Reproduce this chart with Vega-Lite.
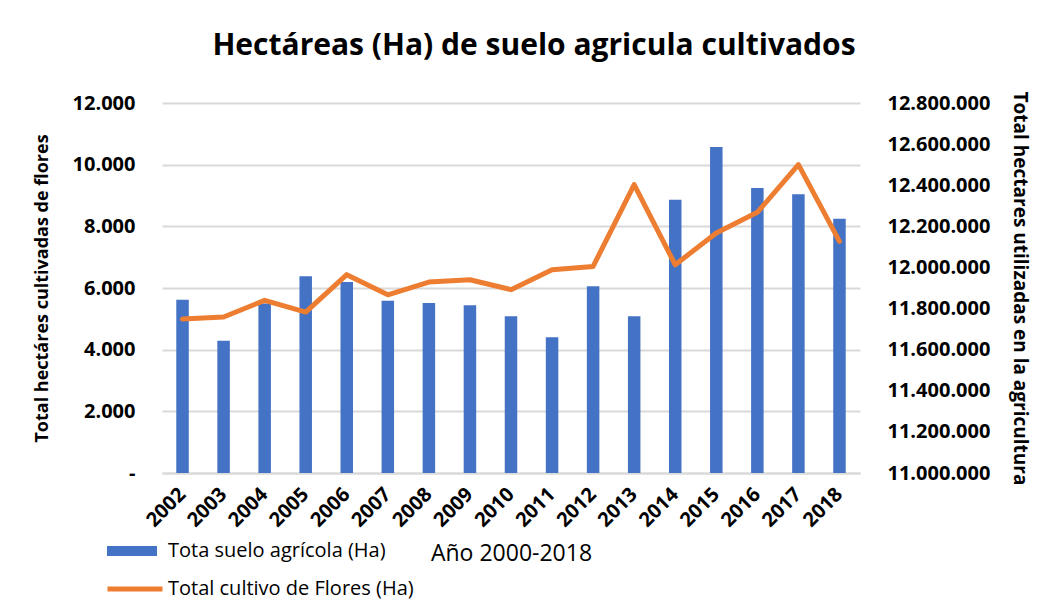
{
  "$schema": "https://vega.github.io/schema/vega-lite/v6.json",
  "width": 698,
  "height": 370,
  "autosize": {"type": "none"},
  "padding": {"left": 162, "top": 103, "right": 185, "bottom": 127},
  "background": "white",
  "title": {
    "text": "Hectáreas (Ha) de suelo agricula cultivados",
    "font": "Open Sans",
    "fontSize": 30,
    "fontWeight": "bold",
    "color": "#000000",
    "anchor": "middle",
    "dx": 23,
    "offset": 30
  },
  "data": {
    "values": [
      {"year": "2002", "suelo": 5620, "flores": 11749000},
      {"year": "2003", "suelo": 4290, "flores": 11759000},
      {"year": "2004", "suelo": 5500, "flores": 11840000},
      {"year": "2005", "suelo": 6380, "flores": 11783000},
      {"year": "2006", "suelo": 6195, "flores": 11965000},
      {"year": "2007", "suelo": 5590, "flores": 11867000},
      {"year": "2008", "suelo": 5515, "flores": 11929000},
      {"year": "2009", "suelo": 5437, "flores": 11940000},
      {"year": "2010", "suelo": 5080, "flores": 11892000},
      {"year": "2011", "suelo": 4400, "flores": 11989000},
      {"year": "2012", "suelo": 6053, "flores": 12005000},
      {"year": "2013", "suelo": 5080, "flores": 12403000},
      {"year": "2014", "suelo": 8865, "flores": 12013000},
      {"year": "2015", "suelo": 10574, "flores": 12168000},
      {"year": "2016", "suelo": 9244, "flores": 12268000},
      {"year": "2017", "suelo": 9037, "flores": 12500000},
      {"year": "2018", "suelo": 8249, "flores": 12127000}
    ]
  },
  "encoding": {
    "x": {
      "field": "year",
      "type": "nominal",
      "scale": {"paddingInner": 0, "paddingOuter": 0},
      "axis": {
        "title": "Año 2000-2018",
        "titleFont": "Open Sans",
        "titleFontSize": 23,
        "titleFontWeight": "normal",
        "titleColor": "#000000",
        "titleY": 80,
        "titleBaseline": "middle",
        "labelAngle": -45,
        "labelAlign": "right",
        "labelBaseline": "middle",
        "labelFont": "Open Sans",
        "labelFontSize": 20,
        "labelFontWeight": "bold",
        "labelColor": "#000000",
        "labelPadding": 18,
        "ticks": false,
        "domainColor": "#d9d9d9",
        "domainWidth": 2,
        "grid": false
      }
    }
  },
  "layer": [
    {
      "mark": {"type": "bar", "size": 12.5},
      "encoding": {
        "y": {
          "field": "suelo",
          "type": "quantitative",
          "scale": {"domain": [0, 12000], "nice": false},
          "axis": {
            "orient": "left",
            "title": "Total hectáres cultivadas de flores",
            "titleFont": "Open Sans",
            "titleFontSize": 18,
            "titleFontWeight": "bold",
            "titleColor": "#000000",
            "titlePadding": 21,
            "values": [0, 2000, 4000, 6000, 8000, 10000, 12000],
            "labelExpr": "datum.value == 0 ? '-' : replace(format(datum.value, ','), regexp(',', 'g'), '.')",
            "labelFont": "Open Sans",
            "labelFontSize": 20,
            "labelFontWeight": "bold",
            "labelColor": "#000000",
            "labelPadding": 27,
            "ticks": false,
            "domain": false,
            "grid": true,
            "gridColor": "#d9d9d9",
            "gridWidth": 2
          }
        },
        "color": {
          "datum": "Tota suelo agrícola (Ha)",
          "type": "nominal",
          "scale": {"range": ["#4472C4"]},
          "legend": {
            "orient": "none",
            "legendX": -55,
            "legendY": 423,
            "title": null,
            "padding": 0,
            "symbolType": "M-1,-0.2H1V0.2H-1Z",
            "symbolSize": 2500,
            "symbolStrokeWidth": 0,
            "labelFont": "Open Sans",
            "labelFontSize": 20,
            "labelColor": "#000000",
            "labelOffset": 11,
            "labelLimit": 0
          }
        }
      }
    },
    {
      "mark": {"type": "line", "strokeWidth": 5, "strokeJoin": "round", "strokeCap": "round"},
      "encoding": {
        "y": {
          "field": "flores",
          "type": "quantitative",
          "scale": {"domain": [11000000, 12800000], "nice": false, "zero": false},
          "axis": {
            "orient": "right",
            "title": "Total hectares utilizadas en la agricultura",
            "titleFont": "Open Sans",
            "titleFontSize": 19,
            "titleFontWeight": "bold",
            "titleColor": "#000000",
            "titlePadding": 20,
            "values": [11000000, 11200000, 11400000, 11600000, 11800000, 12000000, 12200000, 12400000, 12600000, 12800000],
            "labelExpr": "replace(format(datum.value, ','), regexp(',', 'g'), '.')",
            "labelFont": "Open Sans",
            "labelFontSize": 20,
            "labelFontWeight": "bold",
            "labelColor": "#000000",
            "labelPadding": 27,
            "ticks": false,
            "domain": false,
            "grid": false
          }
        },
        "stroke": {
          "datum": "Total cultivo de Flores (Ha)",
          "type": "nominal",
          "scale": {"range": ["#ED7D31"]},
          "legend": {
            "orient": "none",
            "legendX": -57,
            "legendY": 456,
            "title": null,
            "padding": 0,
            "symbolType": "stroke",
            "symbolSize": 3025,
            "symbolStrokeWidth": 5,
            "labelFont": "Open Sans",
            "labelFontSize": 20,
            "labelColor": "#000000",
            "labelOffset": 3,
            "labelLimit": 0
          }
        }
      }
    }
  ],
  "resolve": {"scale": {"y": "independent", "color": "independent", "stroke": "independent"}},
  "config": {"view": {"stroke": null}}
}
